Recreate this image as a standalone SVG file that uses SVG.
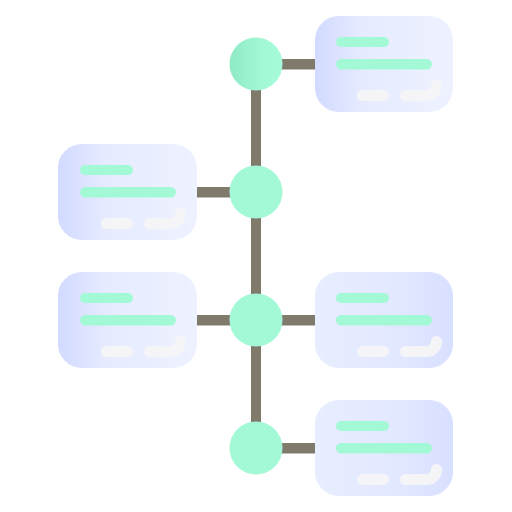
<svg xmlns="http://www.w3.org/2000/svg" width="512" height="512" viewBox="0 0 512 512">
<defs>
<linearGradient id="cardL" x1="0" y1="0" x2="1" y2="0">
<stop offset="0" stop-color="#d2daff"/>
<stop offset="0.35" stop-color="#e6ebff"/>
<stop offset="1" stop-color="#eef2ff"/>
</linearGradient>
<linearGradient id="cardR" x1="0" y1="0" x2="1" y2="0">
<stop offset="0" stop-color="#e8edff"/>
<stop offset="0.6" stop-color="#e2e8ff"/>
<stop offset="1" stop-color="#d8e0ff"/>
</linearGradient>
<linearGradient id="dotG" x1="0" y1="0" x2="1" y2="0">
<stop offset="0" stop-color="#8fe9c5"/>
<stop offset="0.6" stop-color="#a2f8d5"/>
<stop offset="1" stop-color="#a6fbd9"/>
</linearGradient>
<g id="content">
<rect x="21" y="21" width="53" height="10" rx="5" class="gbar"/>
<rect x="21" y="43" width="96" height="10.5" rx="5.25" class="gbar"/>
<line x1="47.5" y1="79.5" x2="68.5" y2="79.5" class="wbar"/>
<path d="M90.5 79.5 H111.5 A10 10 0 0 0 121.5 69.5" class="wbar"/>
</g>
</defs>
<style>
.link{fill:#807a6c}
.gbar{fill:#a3f9d6}
.wbar{fill:none;stroke:#f5f5f7;stroke-width:11;stroke-linecap:round}
.dot{fill:#a3f9d6}
</style>
<g id="connectors">
<rect class="link" x="251" y="64" width="10" height="384"/>
<rect class="link" x="256" y="59" width="60" height="10.5"/>
<rect class="link" x="196" y="187" width="60" height="10.5"/>
<rect class="link" x="196" y="315" width="120" height="10.5"/>
<rect class="link" x="256" y="443" width="60" height="10.5"/>
</g>
<g id="card1" transform="translate(315,16)">
<rect width="138" height="96" rx="24" fill="url(#cardL)"/>
<use href="#content"/>
</g>
<g id="card2" transform="translate(58,144)">
<rect width="139" height="96" rx="24" fill="url(#cardL)"/>
<use href="#content" x="1"/>
</g>
<g id="card3" transform="translate(58,272)">
<rect width="139" height="96" rx="24" fill="url(#cardL)"/>
<use href="#content" x="1"/>
</g>
<g id="card4" transform="translate(315,272)">
<rect width="138" height="96" rx="24" fill="url(#cardR)"/>
<use href="#content"/>
</g>
<g id="card5" transform="translate(315,400)">
<rect width="138" height="96" rx="24" fill="url(#cardR)"/>
<use href="#content"/>
</g>
<g id="dot1"><circle cx="256" cy="64" r="26.5" fill="url(#dotG)"/></g>
<g id="dot2"><circle cx="256" cy="192" r="26.5" class="dot"/></g>
<g id="dot3"><circle cx="256" cy="320" r="26.5" class="dot"/></g>
<g id="dot4"><circle cx="256" cy="448" r="26.5" class="dot"/></g>
</svg>
